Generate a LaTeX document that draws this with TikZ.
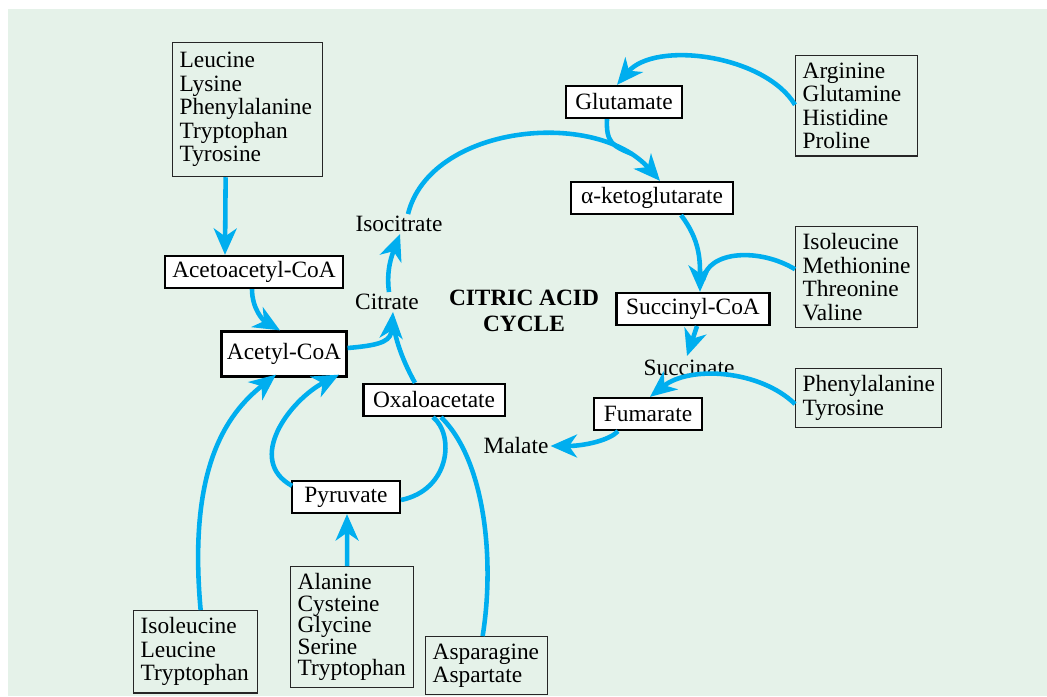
\documentclass[tikz,border=0pt]{standalone}
\usepackage{fontspec}
\setmainfont{Liberation Serif}
\usetikzlibrary{arrows.meta,calc}
\definecolor{cycbg}{RGB}{229,242,233}
\definecolor{cycblue}{RGB}{0,174,239}
\tikzset{
  inter/.style={draw=black, line width=1.3pt, fill=white, inner xsep=5.5pt, inner ysep=2pt, minimum height=0.64cm},
  group/.style={draw=black!85, line width=0.7pt, align=left, anchor=north west, inner xsep=4pt, inner ysep=4pt},
  lbl/.style={inner sep=1pt},
  flow/.style={draw=cycblue, line width=2.6pt},
}
\begin{document}
\begin{tikzpicture}[x=0.02cm, y=-0.02cm, font=\fontsize{13.3}{13.4}\selectfont,
    >={Stealth[length=15pt,width=13pt,inset=4.5pt]}]
  \useasboundingbox (0,0) rectangle (1047,696);
  \fill[white] (0,0) rectangle (1047,696);
  \fill[cycbg] (8,9) rectangle (1047,696);

  % intermediates
  \node[inter] (glu) at (624,102) {Glutamate};
  \node[inter] (akg) at (652,198) {α-ketoglutarate};
  \node[inter, inner xsep=4pt] (acac) at (254,272) {Acetoacetyl-CoA};
  \node[inter, inner xsep=3pt, minimum height=0.9cm] (acoa) at (284,354) {Acetyl-CoA};
  \node[inter] (succoa) at (693,309) {Succinyl-CoA};
  \node[inter] (fum) at (648,414) {Fumarate};
  \node[inter] (oaa) at (434,400) {Oxaloacetate};
  \node[inter, inner xsep=7pt] (pyr) at (346,497) {Pyruvate};

  % plain labels
  \node[lbl] (isocit) at (399,224) {Isocitrate};
  \node[lbl] (cit) at (387,302) {Citrate};
  \node[lbl] (succ) at (689,368) {Succinate};
  \node[lbl] (mal) at (516,446) {Malate};
  \node[font=\fontsize{13.3}{14.8}\selectfont\bfseries, align=center] (cycle) at (524,311) {CITRIC ACID\\CYCLE};

  % amino acid groups
  \node[group, inner ysep=5.5pt, text width=2.72cm] (leu) at (172,42) {Leucine\\Lysine\\Phenylalanine\\Tryptophan\\Tyrosine};
  \node[group, text width=2.16cm] (arg) at (795,55) {Arginine\\Glutamine\\Histidine\\Proline};
  \node[group, text width=2.16cm] (ile) at (795,226) {Isoleucine\\Methionine\\Threonine\\Valine};
  \node[group, text width=2.64cm] (phe) at (795,368) {Phenylalanine\\Tyrosine};
  \node[group, text width=2.2cm] (ilt) at (133,610) {Isoleucine\\Leucine\\Tryptophan};
  \node[group, text width=2.18cm, font=\fontsize{13.3}{12.2}\selectfont] (ala) at (290,566) {Alanine\\Cysteine\\Glycine\\Serine\\Tryptophan};
  \node[group, text width=2.16cm] (asn) at (425,636) {Asparagine\\Aspartate};

  % around the cycle
  \draw[flow,->] ($(acoa.east)+(0,-6)$) .. controls (385,345) and (391,340) .. ($(cit.south)+(6,0)$);
  \draw[flow] ($(oaa.north)+(-19,0)$) .. controls (405,365) and (397,345) .. ($(cit.south)+(7,16)$);
  \draw[flow,->] ($(cit.north)+(2,0)$) .. controls (386,270) and (392,255) .. ($(isocit.south)+(1,0)$);
  \draw[flow,->] ($(isocit.north)+(9,0)$) .. controls (430,125) and (595,108) .. ($(akg.north)+(8,0)$);
  \draw[flow,->] ($(akg.south)+(29,0)$) .. controls (700,240) and (700,260) .. ($(succoa.north)+(7,0)$);
  \draw[flow,->] ($(succoa.south)+(4,0)$) -- ($(succ.north)+(-2,-2)$);
  \draw[flow,->] ($(fum.south)+(-30,0)$) .. controls (610,440) and (585,446) .. (mal.east);
  \draw[flow] ($(oaa.south)+(-1,0)$) .. controls (455,435) and (450,490) .. ($(pyr.east)+(0,3)$);

  % feeding in
  \draw[flow,->] ($(leu.south)+(-22,0)$) -- ($(acac.north)+(-29,0)$);
  \draw[flow,->] ($(acac.south)+(-2,0)$) to[out=-90,in=150] ($(acoa.north)+(-4,0)$);
  \draw[flow,->] ($(pyr.north west)+(1,6)$) .. controls (245,460) and (290,400) .. ($(acoa.south)+(55,-3)$);
  \draw[flow,->] ($(ilt.north)+(5,0)$) .. controls (188,470) and (225,415) .. ($(acoa.south)+(-8,-3)$);
  \draw[flow,->] ($(ala.north)+(-5,0)$) -- ($(pyr.south)+(1,0)$);
  \draw[flow] ($(asn.north)+(-4,0)$) .. controls (495,560) and (485,460) .. ($(oaa.south)+(7,0)$);
  \draw[flow,->] ($(arg.west)+(0,-1)$) .. controls (765,55) and (655,40) .. ($(glu.north)+(-7,0)$);
  \draw[flow] ($(glu.south)+(-17,0)$) .. controls (606,142) and (612,146) .. (632,154);
  \draw[flow] ($(ile.west)+(0,-8)$) .. controls (760,248) and (708,250) .. (703,280);
  \draw[flow,->] ($(phe.west)+(0,6)$) .. controls (760,370) and (690,365) .. ($(fum.north)+(2,0)$);
\end{tikzpicture}
\end{document}
